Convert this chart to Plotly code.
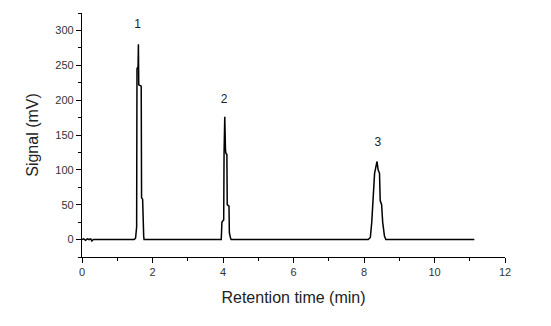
import plotly.graph_objects as go

# Chromatogram samples (time in min, signal in mV)
time_min = [0.0, 0.05, 0.1, 0.15, 0.2, 0.25, 0.28, 0.32, 0.4,
            1.48, 1.52, 1.53, 1.55, 1.56, 1.59, 1.60, 1.61, 1.68, 1.69, 1.72, 1.73, 1.75, 1.76,
            3.95, 3.97, 4.02, 4.03, 4.05, 4.07, 4.08, 4.11, 4.12, 4.17, 4.18, 4.21, 4.23,
            8.12, 8.18, 8.22, 8.26, 8.30, 8.34, 8.37, 8.40, 8.44, 8.46, 8.50, 8.53, 8.58, 8.62,
            11.13]
signal_mv = [0, 1, -1, 1, 0, 1, -2, 0, 0,
             0, 2, 15, 18, 245, 248, 280, 222, 220, 60, 58, 8, 5, 0,
             0, 25, 28, 124, 176, 130, 124, 122, 50, 48, 10, 3, 0,
             0, 3, 25, 55, 95, 105, 112, 100, 95, 56, 50, 25, 5, 0,
             0]

peak_labels = ["1", "2", "3"]
peak_label_x = [1.58, 4.03, 8.39]
peak_label_y = [308, 200, 139]

x_ticks = [0, 2, 4, 6, 8, 10, 12]
y_ticks = [0, 50, 100, 150, 200, 250, 300]

font_family = "Liberation Sans, Arial, sans-serif"

fig = go.Figure()
fig.add_trace(go.Scatter(x=time_min, y=signal_mv, mode="lines",
                         line=dict(color="black", width=1.5), showlegend=False,
                         hoverinfo="skip"))
fig.add_trace(go.Scatter(x=peak_label_x, y=peak_label_y, mode="text", text=peak_labels,
                         textfont=dict(family=font_family, size=12, color="#222222"),
                         showlegend=False, hoverinfo="skip"))

fig.update_layout(
    width=551, height=326,
    margin=dict(l=82, r=46, t=13, b=69),
    paper_bgcolor="white", plot_bgcolor="white",
    font=dict(family=font_family, color="#222222"),
    xaxis=dict(range=[0, 12], tickvals=x_ticks, ticktext=[str(v) for v in x_ticks],
               showgrid=False, zeroline=False, showline=True, linecolor="black", linewidth=1.2,
               ticks="outside", ticklen=5, tickwidth=1.2, tickcolor="black",
               minor=dict(dtick=1, ticks="outside", ticklen=3, tickwidth=1, tickcolor="black"),
               tickfont=dict(size=11, color="#333333"),
               title=dict(text="Retention time (min)", font=dict(size=16, color="#222222"), standoff=14)),
    yaxis=dict(range=[-25, 325], tickvals=y_ticks, ticktext=[str(v) for v in y_ticks],
               showgrid=False, zeroline=False, showline=True, linecolor="black", linewidth=1.2,
               ticks="outside", ticklen=5, tickwidth=1.2, tickcolor="black",
               minor=dict(tick0=-25, dtick=25, ticks="outside", ticklen=3, tickwidth=1, tickcolor="black"),
               tickfont=dict(size=11, color="#333333"),
               title=dict(text="Signal (mV)", font=dict(size=16, color="#222222"), standoff=12)),
)

fig.write_html("out.html")
